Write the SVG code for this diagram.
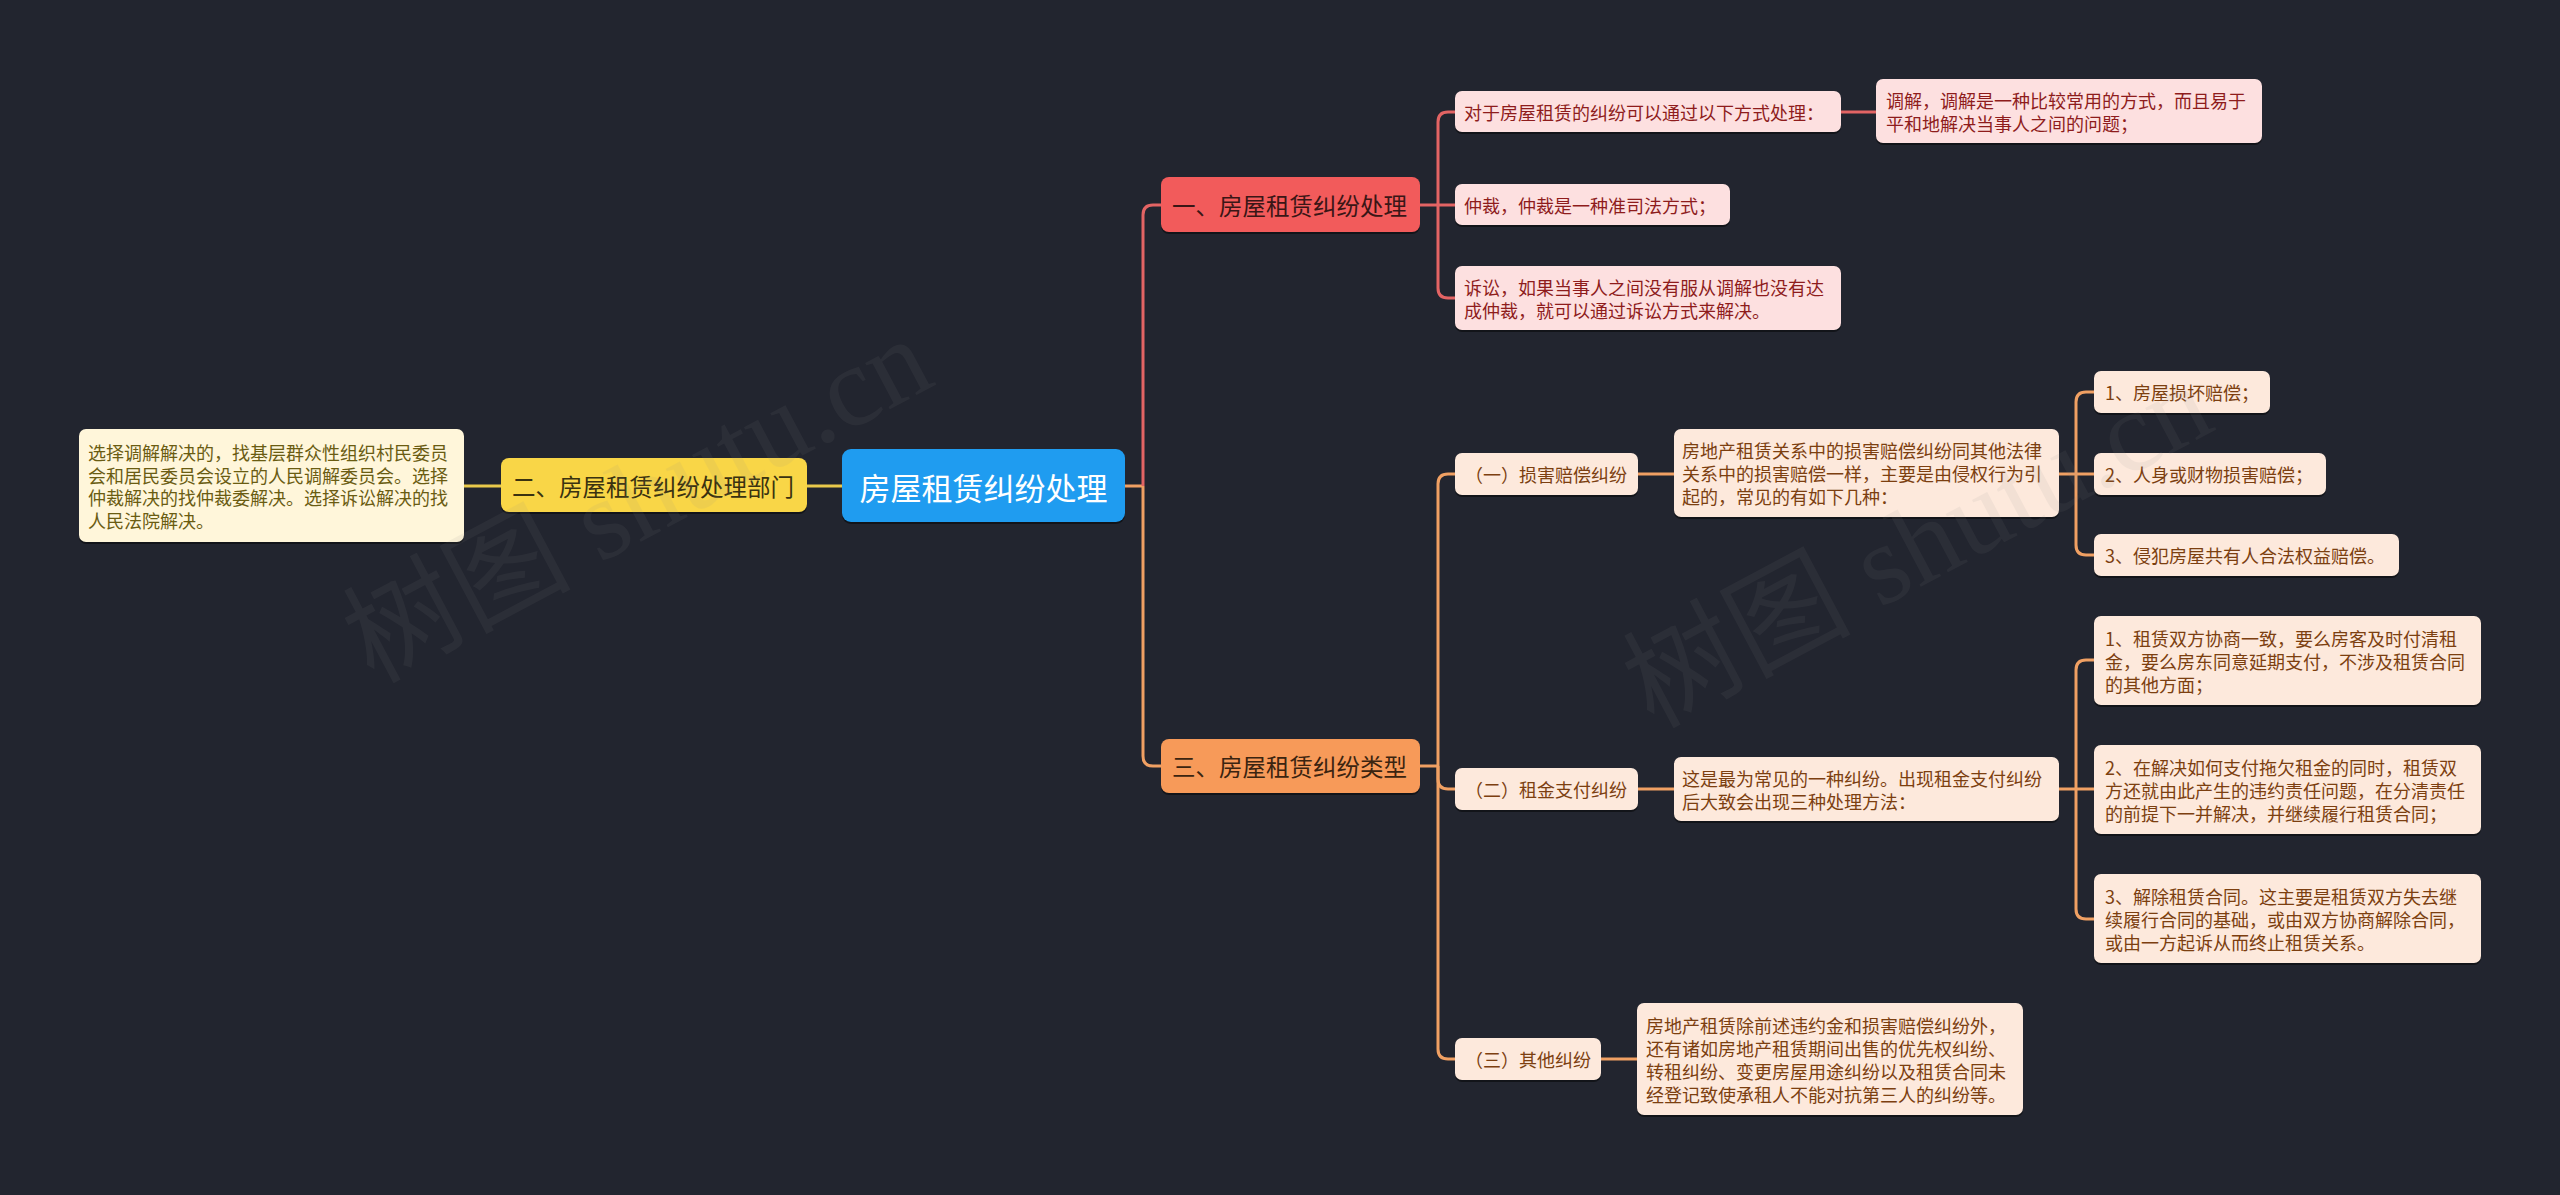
<svg xmlns="http://www.w3.org/2000/svg" width="2560" height="1195" viewBox="0 0 2560 1195">
<defs>
<style>
text{font-family:"Noto Sans CJK SC","Noto Sans",sans-serif;dominant-baseline:central}
.sh{fill:#000;opacity:.45}
.t18{font-size:18px}
.pk rect.b{fill:#fde0e0}
.pk text{fill:#8e1c1c}
.or rect.b{fill:#fde9dc}
.or text{fill:#7c3f10}
.yl rect.b{fill:#fff6da}
.yl text{fill:#6a5c12}
.cr{fill:none;stroke:#e36464;stroke-width:3}
.co{fill:none;stroke:#f0a063;stroke-width:3}
.cy{fill:none;stroke:#e9c94b;stroke-width:3}
.wm{font-family:"Liberation Serif","Noto Sans CJK SC",serif;font-size:114px;fill:#8a8a8a;opacity:.09}
</style>
</defs>
<rect width="2560" height="1195" fill="#22252f"/>

<g id="connectors">
<path class="cy" d="M842 486H807"/>
<path class="cy" d="M501 486H464"/>
<path class="co" d="M1125 486H1143"/>
<path class="cr" d="M1143 486V215Q1143 205 1153 205H1161"/>
<path class="co" d="M1143 486V756Q1143 766 1153 766H1161"/>
<path class="cr" d="M1420 205H1438"/>
<path class="cr" d="M1438 205V122Q1438 112 1448 112H1455"/>
<path class="cr" d="M1438 205H1455"/>
<path class="cr" d="M1438 205V288Q1438 298 1448 298H1455"/>
<path class="cr" d="M1841 112H1876"/>
<path class="co" d="M1420 766H1438"/>
<path class="co" d="M1438 766V484Q1438 474 1448 474H1455"/>
<path class="co" d="M1438 766V779Q1438 789 1448 789H1455"/>
<path class="co" d="M1438 766V1049Q1438 1059 1448 1059H1455"/>
<path class="co" d="M1638 474H1674"/>
<path class="co" d="M1638 789H1674"/>
<path class="co" d="M1601 1059H1637"/>
<path class="co" d="M2059 474H2076"/>
<path class="co" d="M2076 474V402Q2076 392 2086 392H2094"/>
<path class="co" d="M2076 474H2094"/>
<path class="co" d="M2076 474V545Q2076 555 2086 555H2094"/>
<path class="co" d="M2059 789H2076"/>
<path class="co" d="M2076 789V670Q2076 660 2086 660H2094"/>
<path class="co" d="M2076 789H2094"/>
<path class="co" d="M2076 789V909Q2076 919 2086 919H2094"/>
</g>

<g id="center">
<rect class="sh" x="842" y="451" width="283" height="73" rx="9"/>
<rect x="842" y="449" width="283" height="73" rx="9" fill="#1f9cf0"/>
<text x="983.5" y="486" font-size="31" fill="#ffffff" text-anchor="middle">房屋租赁纠纷处理</text>
</g>

<g id="n-dept">
<rect class="sh" x="501" y="460" width="306" height="54" rx="8"/>
<rect x="501" y="458" width="306" height="54" rx="8" fill="#f9d647"/>
<text x="512" y="485.5" font-size="23.5" fill="#3a3210">二、房屋租赁纠纷处理部门</text>
</g>
<g id="n-dept-leaf" class="yl t18">
<rect class="sh" x="79" y="431" width="385" height="113" rx="7"/>
<rect class="b" x="79" y="429" width="385" height="113" rx="7"/>
<text x="88" y="452">选择调解解决的，找基层群众性组织村民委员</text>
<text x="88" y="474.7">会和居民委员会设立的人民调解委员会。选择</text>
<text x="88" y="497.4">仲裁解决的找仲裁委解决。选择诉讼解决的找</text>
<text x="88" y="520">人民法院解决。</text>
</g>

<g id="n-handle">
<rect class="sh" x="1161" y="179" width="259" height="55" rx="8"/>
<rect x="1161" y="177" width="259" height="55" rx="8" fill="#f25b5b"/>
<text x="1172" y="204.5" font-size="23.5" fill="#3a1616">一、房屋租赁纠纷处理</text>
</g>
<g id="n-handle-1" class="pk t18">
<rect class="sh" x="1455" y="93" width="386" height="41" rx="7"/>
<rect class="b" x="1455" y="91" width="386" height="41" rx="7"/>
<text x="1464" y="111.5">对于房屋租赁的纠纷可以通过以下方式处理：</text>
</g>
<g id="n-handle-1a" class="pk t18">
<rect class="sh" x="1876" y="81" width="386" height="64" rx="7"/>
<rect class="b" x="1876" y="79" width="386" height="64" rx="7"/>
<text x="1886" y="100">调解，调解是一种比较常用的方式，而且易于</text>
<text x="1886" y="123">平和地解决当事人之间的问题；</text>
</g>
<g id="n-handle-2" class="pk t18">
<rect class="sh" x="1455" y="186" width="275" height="41" rx="7"/>
<rect class="b" x="1455" y="184" width="275" height="41" rx="7"/>
<text x="1464" y="204.5">仲裁，仲裁是一种准司法方式；</text>
</g>
<g id="n-handle-3" class="pk t18">
<rect class="sh" x="1455" y="268" width="386" height="64" rx="7"/>
<rect class="b" x="1455" y="266" width="386" height="64" rx="7"/>
<text x="1464" y="287">诉讼，如果当事人之间没有服从调解也没有达</text>
<text x="1464" y="310">成仲裁，就可以通过诉讼方式来解决。</text>
</g>

<g id="n-types">
<rect class="sh" x="1161" y="741" width="259" height="54" rx="8"/>
<rect x="1161" y="739" width="259" height="54" rx="8" fill="#f79a59"/>
<text x="1172" y="766" font-size="23.5" fill="#3b2410">三、房屋租赁纠纷类型</text>
</g>

<g id="n-t1" class="or t18">
<rect class="sh" x="1455" y="455" width="183" height="42" rx="7"/>
<rect class="b" x="1455" y="453" width="183" height="42" rx="7"/>
<text x="1465" y="474">（一）损害赔偿纠纷</text>
</g>
<g id="n-t1d" class="or t18">
<rect class="sh" x="1674" y="431" width="385" height="88" rx="7"/>
<rect class="b" x="1674" y="429" width="385" height="88" rx="7"/>
<text x="1682" y="450">房地产租赁关系中的损害赔偿纠纷同其他法律</text>
<text x="1682" y="473">关系中的损害赔偿一样，主要是由侵权行为引</text>
<text x="1682" y="496">起的，常见的有如下几种：</text>
</g>
<g id="n-t1a" class="or t18">
<rect class="sh" x="2094" y="373" width="176" height="42" rx="7"/>
<rect class="b" x="2094" y="371" width="176" height="42" rx="7"/>
<text x="2105" y="392">1、房屋损坏赔偿；</text>
</g>
<g id="n-t1b" class="or t18">
<rect class="sh" x="2094" y="455" width="232" height="42" rx="7"/>
<rect class="b" x="2094" y="453" width="232" height="42" rx="7"/>
<text x="2105" y="474">2、人身或财物损害赔偿；</text>
</g>
<g id="n-t1c" class="or t18">
<rect class="sh" x="2094" y="536" width="305" height="42" rx="7"/>
<rect class="b" x="2094" y="534" width="305" height="42" rx="7"/>
<text x="2105" y="555">3、侵犯房屋共有人合法权益赔偿。</text>
</g>

<g id="n-t2" class="or t18">
<rect class="sh" x="1455" y="770" width="183" height="42" rx="7"/>
<rect class="b" x="1455" y="768" width="183" height="42" rx="7"/>
<text x="1465" y="789">（二）租金支付纠纷</text>
</g>
<g id="n-t2d" class="or t18">
<rect class="sh" x="1674" y="759" width="385" height="64" rx="7"/>
<rect class="b" x="1674" y="757" width="385" height="64" rx="7"/>
<text x="1682" y="777.5">这是最为常见的一种纠纷。出现租金支付纠纷</text>
<text x="1682" y="800.5">后大致会出现三种处理方法：</text>
</g>
<g id="n-t2a" class="or t18">
<rect class="sh" x="2094" y="618" width="387" height="89" rx="7"/>
<rect class="b" x="2094" y="616" width="387" height="89" rx="7"/>
<text x="2105" y="637.5">1、租赁双方协商一致，要么房客及时付清租</text>
<text x="2105" y="660.5">金，要么房东同意延期支付，不涉及租赁合同</text>
<text x="2105" y="683.5">的其他方面；</text>
</g>
<g id="n-t2b" class="or t18">
<rect class="sh" x="2094" y="747" width="387" height="89" rx="7"/>
<rect class="b" x="2094" y="745" width="387" height="89" rx="7"/>
<text x="2105" y="766.5">2、在解决如何支付拖欠租金的同时，租赁双</text>
<text x="2105" y="789.5">方还就由此产生的违约责任问题，在分清责任</text>
<text x="2105" y="812.5">的前提下一并解决，并继续履行租赁合同；</text>
</g>
<g id="n-t2c" class="or t18">
<rect class="sh" x="2094" y="876" width="387" height="89" rx="7"/>
<rect class="b" x="2094" y="874" width="387" height="89" rx="7"/>
<text x="2105" y="895.5">3、解除租赁合同。这主要是租赁双方失去继</text>
<text x="2105" y="918.5">续履行合同的基础，或由双方协商解除合同，</text>
<text x="2105" y="941.5">或由一方起诉从而终止租赁关系。</text>
</g>

<g id="n-t3" class="or t18">
<rect class="sh" x="1455" y="1040" width="146" height="42" rx="7"/>
<rect class="b" x="1455" y="1038" width="146" height="42" rx="7"/>
<text x="1465" y="1059">（三）其他纠纷</text>
</g>
<g id="n-t3d" class="or t18">
<rect class="sh" x="1637" y="1005" width="386" height="112" rx="7"/>
<rect class="b" x="1637" y="1003" width="386" height="112" rx="7"/>
<text x="1646" y="1024.5">房地产租赁除前述违约金和损害赔偿纠纷外，</text>
<text x="1646" y="1047.5">还有诸如房地产租赁期间出售的优先权纠纷、</text>
<text x="1646" y="1070.5">转租纠纷、变更房屋用途纠纷以及租赁合同未</text>
<text x="1646" y="1093.5">经登记致使承租人不能对抗第三人的纠纷等。</text>
</g>

<g id="watermark">
<text class="wm" transform="translate(355 650) rotate(-28)">树图 shutu.cn</text>
<text class="wm" transform="translate(1635 695) rotate(-28)">树图 shutu.cn</text>
</g>
</svg>
